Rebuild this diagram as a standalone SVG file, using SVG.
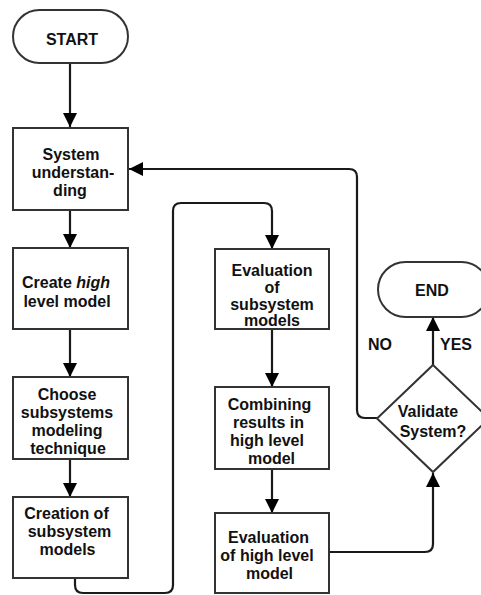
<svg xmlns="http://www.w3.org/2000/svg" width="481" height="595" viewBox="0 0 481 595">
<style>
.n{fill:#fff;stroke:#333;stroke-width:2}
.c{fill:none;stroke:#1a1a1a;stroke-width:2.2}
text{font-family:"Liberation Sans",Arial,sans-serif;font-weight:bold;font-size:16px;fill:#111;text-anchor:middle}
</style>
<defs>
<marker id="ah" viewBox="0 0 14 14" refX="14" refY="7" markerWidth="14" markerHeight="14" markerUnits="userSpaceOnUse" orient="auto">
<path d="M0,0 L14,7 L0,14 z" fill="#000"/>
</marker>
</defs>
<rect width="481" height="595" fill="#fff"/>
<g id="connectors">
<path class="c" d="M70,63 V127" marker-end="url(#ah)"/>
<path class="c" d="M70,210 V248" marker-end="url(#ah)"/>
<path class="c" d="M70,329 V377" marker-end="url(#ah)"/>
<path class="c" d="M70,459 V497" marker-end="url(#ah)"/>
<path class="c" d="M75,578 V585 Q75,593 83,593 H165 Q173,593 173,585 V211 Q173,203 181,203 H264 Q272,203 272,211 V249" marker-end="url(#ah)"/>
<path class="c" d="M272,329 V387" marker-end="url(#ah)"/>
<path class="c" d="M272,469 V513" marker-end="url(#ah)"/>
<path class="c" d="M329,552 H425 Q433,552 433,544 V473" marker-end="url(#ah)"/>
<path class="c" d="M433,365 V317" marker-end="url(#ah)"/>
<path class="c" d="M377,418 H365 Q357,418 357,410 V177 Q357,169 349,169 H129" marker-end="url(#ah)"/>
<text x="380" y="350">NO</text>
<text x="456" y="350">YES</text>
</g>
<g id="start">
<rect class="n" x="13" y="10" width="115" height="53" rx="26.5"/>
<text x="72" y="45">START</text>
</g>
<g id="system-understanding">
<rect class="n" x="13" y="128" width="115" height="82"/>
<text x="71" y="160">System</text>
<text x="73" y="178">understan-</text>
<text x="70" y="196">ding</text>
</g>
<g id="create-high-level-model">
<rect class="n" x="13" y="248" width="115" height="81"/>
<text x="66" y="288">Create <tspan font-style="italic">high</tspan></text>
<text x="67" y="307">level model</text>
</g>
<g id="choose-technique">
<rect class="n" x="13" y="377" width="115" height="82"/>
<text x="67" y="400">Choose</text>
<text x="67" y="418">subsystems</text>
<text x="67" y="436">modeling</text>
<text x="68" y="454">technique</text>
</g>
<g id="creation-subsystem-models">
<rect class="n" x="13" y="497" width="115" height="81"/>
<text x="66.5" y="519">Creation of</text>
<text x="69.5" y="537">subsystem</text>
<text x="67.5" y="555">models</text>
</g>
<g id="evaluation-subsystem-models">
<rect class="n" x="215" y="249" width="114" height="80"/>
<text x="272" y="276">Evaluation</text>
<text x="272" y="293">of</text>
<text x="272" y="310">subsystem</text>
<text x="272" y="326">models</text>
</g>
<g id="combining-results">
<rect class="n" x="215" y="387" width="114" height="82"/>
<text x="269.5" y="410">Combining</text>
<text x="268.5" y="428">results in</text>
<text x="267" y="446">high level</text>
<text x="271.5" y="464">model</text>
</g>
<g id="evaluation-high-level-model">
<rect class="n" x="215" y="513" width="114" height="80"/>
<text x="268.5" y="543">Evaluation</text>
<text x="267" y="561">of high level</text>
<text x="269.5" y="579">model</text>
</g>
<g id="validate-system">
<path class="n" d="M433,365 L489,418.5 L433,472 L377,418.5 z"/>
<text x="428" y="417">Validate</text>
<text x="433" y="437">System?</text>
</g>
<g id="end">
<rect class="n" x="378" y="262" width="111" height="55" rx="27.5"/>
<text x="432" y="296">END</text>
</g>
</svg>
